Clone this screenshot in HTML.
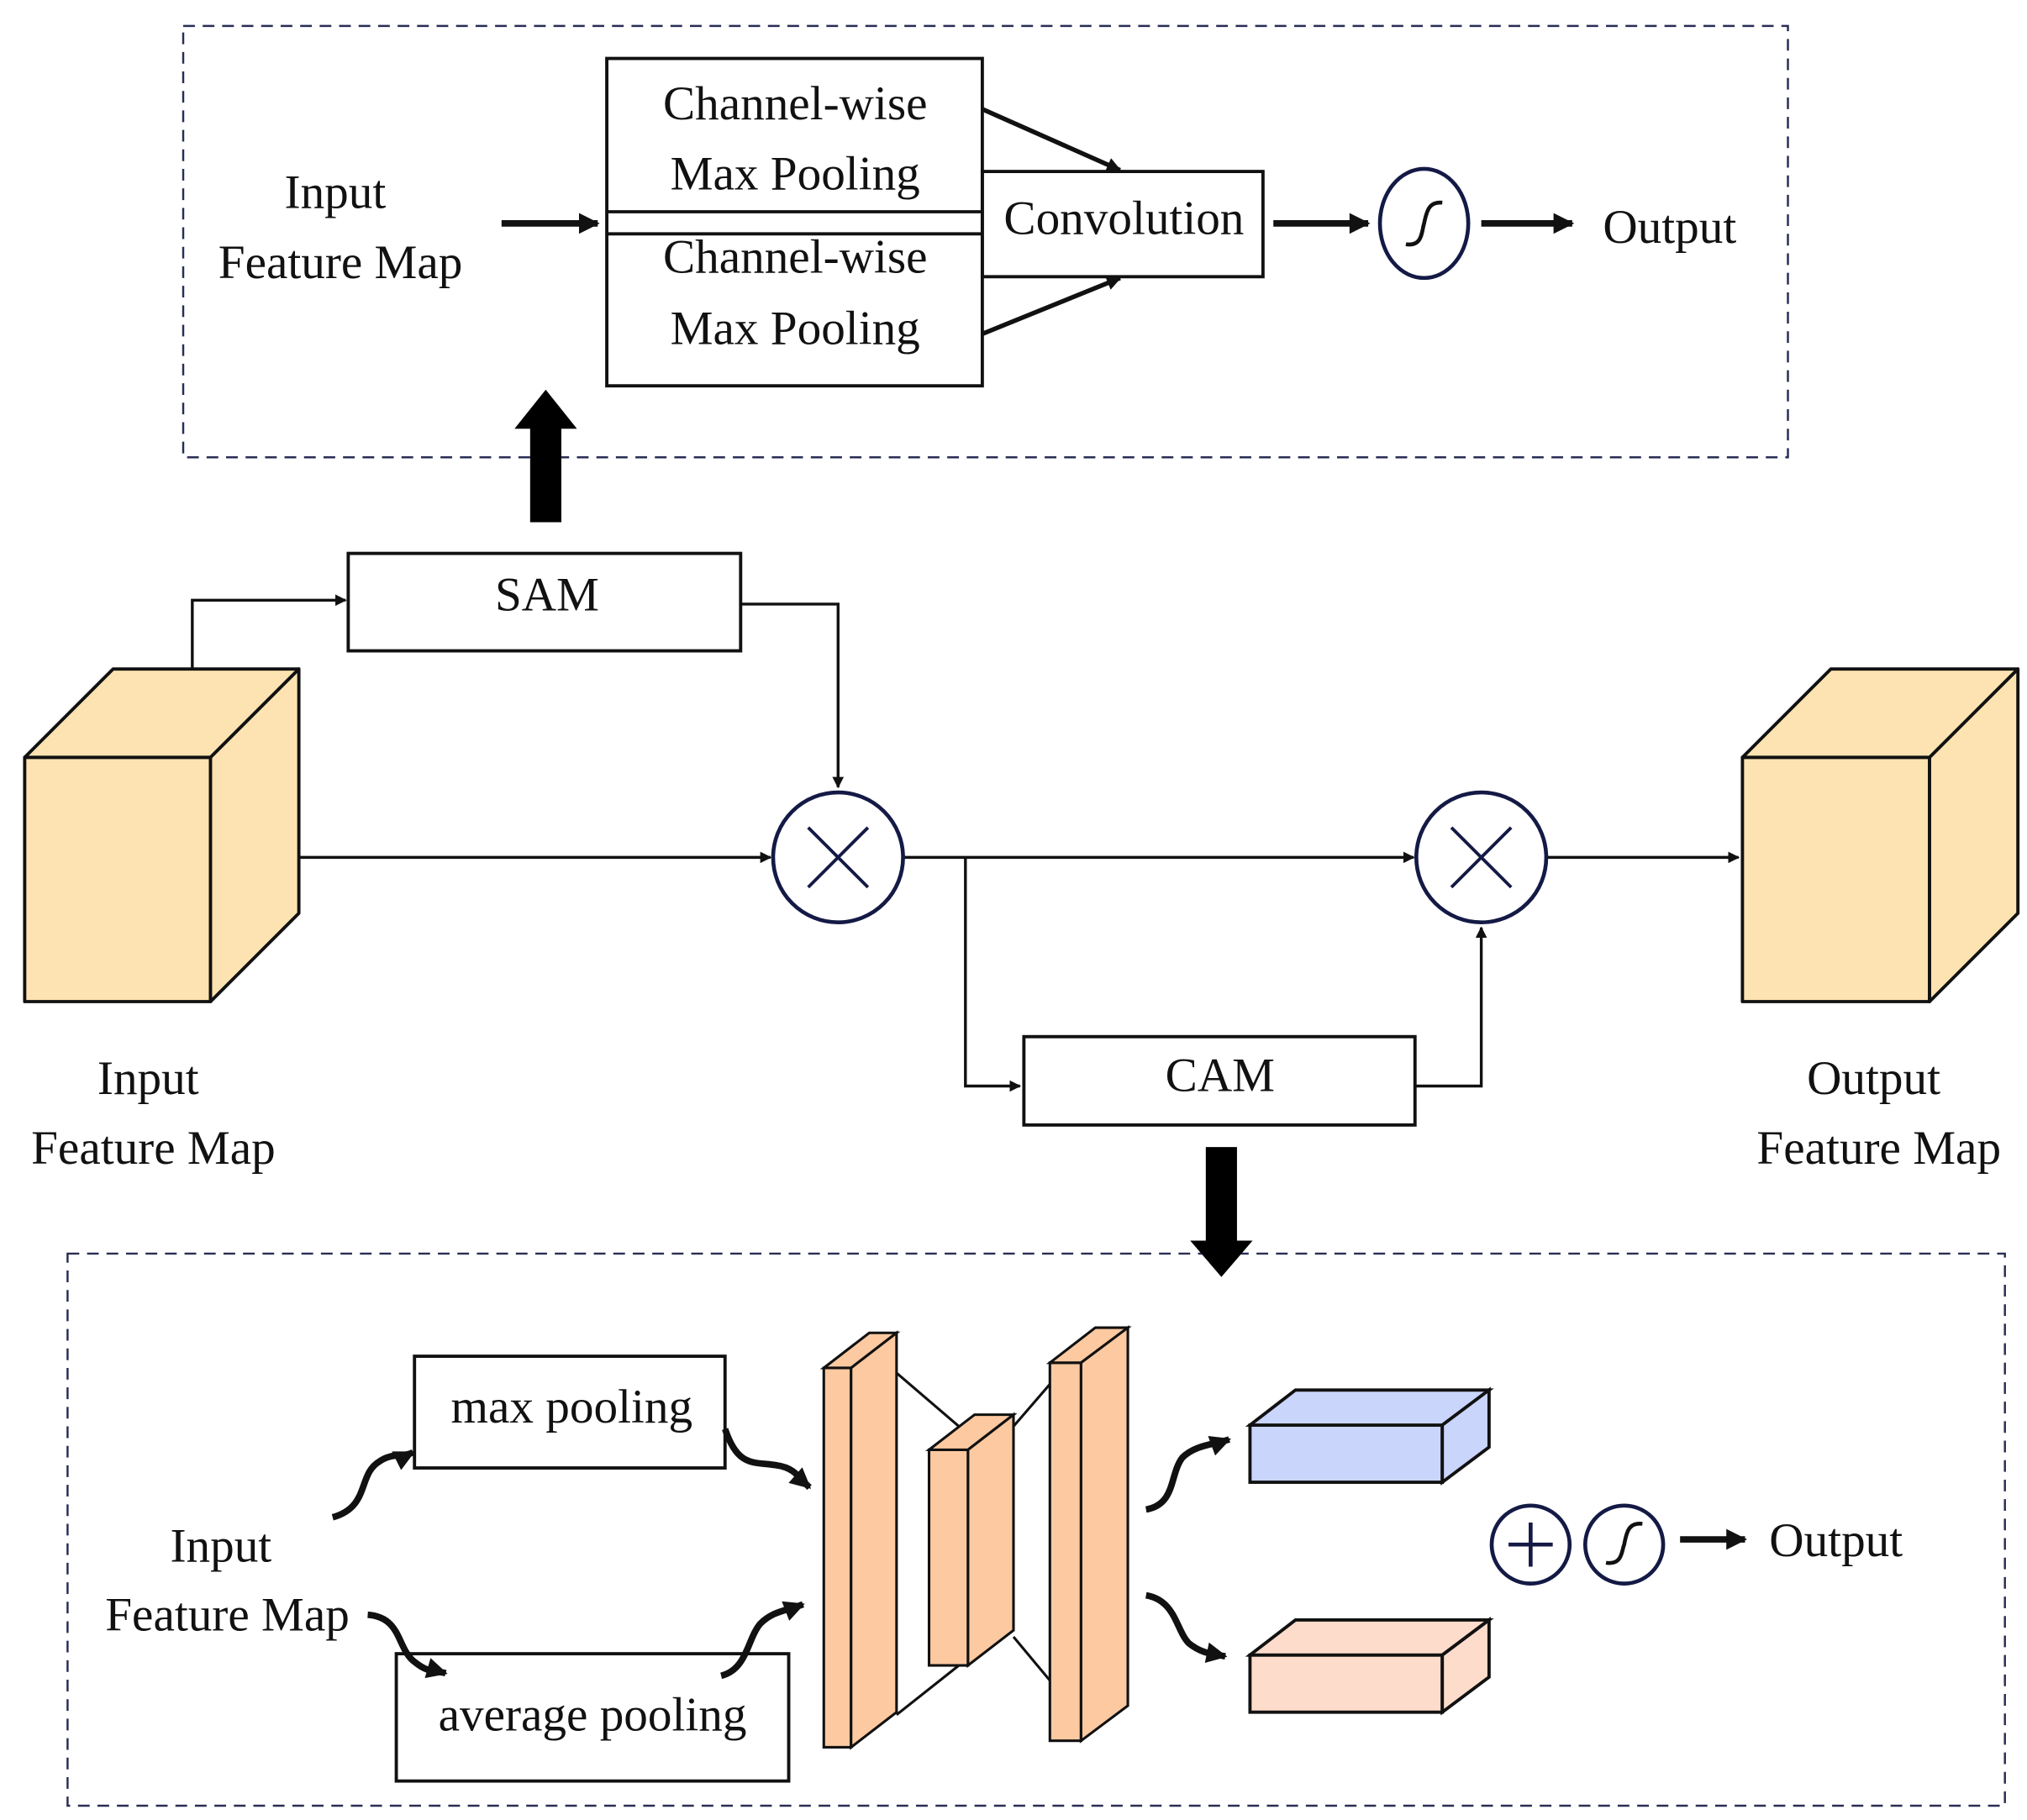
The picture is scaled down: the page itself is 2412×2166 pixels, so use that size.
<!DOCTYPE html>
<html><head><meta charset="utf-8"><style>html,body{margin:0;padding:0;background:#fff}svg{display:block}</style></head>
<body>
<svg width="2412" height="2166" viewBox="0 0 1560 1401" preserveAspectRatio="none" xmlns="http://www.w3.org/2000/svg" font-family="'Liberation Serif', serif" font-size="37" fill="#111">
<defs>
<marker id="a" viewBox="0 0 10 10" refX="9" refY="5" markerWidth="3.6" markerHeight="3.2" orient="auto"><path d="M0,0L10,5L0,10z" fill="#111"/></marker>
<marker id="b" viewBox="0 0 10 10" refX="9" refY="5" markerWidth="4" markerHeight="4" orient="auto"><path d="M0,0L10,5L0,10z" fill="#111"/></marker>
</defs>
<g fill="none" stroke="#2a2d55" stroke-width="1.6" stroke-dasharray="9,6">
<rect x="141" y="20" width="1235" height="332"/>
<rect x="52" y="965" width="1491" height="425"/>
</g>
<g text-anchor="middle">
<text x="258" y="160">Input</text><text x="262" y="214">Feature Map</text>
<text x="612" y="92">Channel-wise</text><text x="612" y="146">Max Pooling</text>
<text x="612" y="210">Channel-wise</text><text x="612" y="265">Max Pooling</text>
<text x="865" y="180">Convolution</text>
<text x="1285" y="187">Output</text>
<text x="421" y="470">SAM</text><text x="939" y="840">CAM</text>
<text x="114" y="842">Input</text><text x="118" y="896">Feature Map</text>
<text x="1442" y="842">Output</text><text x="1446" y="896">Feature Map</text>
<text x="440" y="1095">max pooling</text><text x="456" y="1332">average pooling</text>
<text x="170" y="1202">Input</text><text x="175" y="1255">Feature Map</text>
<text x="1413" y="1198">Output</text>
</g>
<g fill="none" stroke="#111" stroke-width="2.5">
<rect x="467" y="45" width="289" height="252"/>
<line x1="467" y1="163" x2="756" y2="163"/><line x1="467" y1="180" x2="756" y2="180"/>
<rect x="756" y="132" width="216" height="81"/>
<rect x="268" y="426" width="302" height="75"/>
<rect x="788" y="798" width="301" height="68"/>
<rect x="319" y="1044" width="239" height="86"/>
<rect x="305" y="1273" width="302" height="98"/>
</g>
<g stroke="#111" stroke-width="5" fill="none" marker-end="url(#a)">
<line x1="386" y1="172" x2="460" y2="172"/>
<line x1="980" y1="172" x2="1053" y2="172"/>
<line x1="1140" y1="172" x2="1210" y2="172"/>
<line x1="1293" y1="1185" x2="1343" y2="1185"/>
<line x1="756" y1="84" x2="862" y2="131" stroke-width="3.5"/>
<line x1="756" y1="257" x2="862" y2="214" stroke-width="3.5"/>
<path d="M256,1168 C285,1160 275,1135 292,1125 C302,1118 310,1122 318,1118"/>
<path d="M283,1243 C310,1245 305,1270 320,1280 C330,1288 336,1286 343,1288"/>
<path d="M558,1100 C568,1130 580,1125 598,1128 C612,1130 615,1138 623,1145"/>
<path d="M555,1290 C575,1285 575,1262 585,1250 C595,1240 605,1240 618,1235"/>
<path d="M882,1162 C905,1158 900,1135 910,1122 C920,1112 935,1112 946,1108"/>
<path d="M882,1228 C905,1232 905,1255 915,1265 C925,1273 933,1273 943,1275"/>
</g>
<g stroke="#111" stroke-width="2.2" fill="none" marker-end="url(#b)">
<polyline points="148,514 148,462 266,462"/>
<polyline points="570,465 645,465 645,606"/>
<line x1="225" y1="660" x2="593" y2="660"/>
<line x1="695" y1="660" x2="1088" y2="660"/>
<line x1="1190" y1="660" x2="1338" y2="660"/>
<polyline points="743,660 743,836 785,836"/>
<polyline points="1089,836 1140,836 1140,714"/>
</g>
<path d="M408,402 V330 H396 L420,300 L444,330 H432 V402 Z" fill="#000"/>
<path d="M928,883 V955 H916 L940,983 L964,955 H952 V883 Z" fill="#000"/>
<g fill="none" stroke="#141a45" stroke-width="3">
<ellipse cx="1096" cy="172" rx="34" ry="42"/>
<circle cx="645" cy="660" r="50"/><circle cx="1140" cy="660" r="50"/>
<circle cx="1178" cy="1189" r="30"/><circle cx="1250" cy="1189" r="30"/>
<path d="M622,637 L668,683 M668,637 L622,683 M1117,637 L1163,683 M1163,637 L1117,683" stroke-width="2.5"/>
<path d="M1178,1172 V1206 M1161,1189 H1195"/>
</g>
<g fill="none" stroke="#111" stroke-width="3">
<path d="M1082,188 C1095,190 1094,178 1096,172 C1098,162 1100,155 1110,156"/>
<path d="M1236,1203 C1249,1205 1248,1193 1250,1189 C1252,1178 1254,1172 1264,1173"/>
</g>
<g stroke="#111" stroke-width="2.5" fill="#fde3b1" stroke-linejoin="round">
<rect x="19" y="583" width="143" height="188"/>
<polygon points="19,583 87,515 230,515 162,583"/>
<polygon points="162,583 230,515 230,703 162,771"/>
<rect x="1341" y="583" width="144" height="188"/>
<polygon points="1341,583 1409,515 1553,515 1485,583"/>
<polygon points="1485,583 1553,515 1553,703 1485,771"/>
</g>
<g stroke="#111" stroke-width="2" fill="#fdc9a1">
<line x1="668" y1="1038" x2="738" y2="1098" fill="none"/>
<line x1="690" y1="1320" x2="738" y2="1282" fill="none"/>
<line x1="780" y1="1098" x2="830" y2="1040" fill="none"/>
<line x1="780" y1="1260" x2="830" y2="1320" fill="none"/>
<rect x="634" y="1053" width="21" height="292"/>
<polygon points="634,1053 669,1026 690,1026 655,1053"/>
<polygon points="655,1053 690,1026 690,1318 655,1345"/>
<rect x="715" y="1116" width="30" height="166"/>
<polygon points="715,1116 750,1089 780,1089 745,1116"/>
<polygon points="745,1116 780,1089 780,1255 745,1282"/>
<rect x="808" y="1049" width="24" height="291"/>
<polygon points="808,1049 843,1022 868,1022 832,1049"/>
<polygon points="832,1049 868,1022 868,1313 832,1340"/>
</g>
<g stroke="#111" stroke-width="2.5">
<g fill="#c9d5fb"><rect x="962" y="1097" width="148" height="44"/><polygon points="962,1097 997,1070 1146,1070 1110,1097"/><polygon points="1110,1097 1146,1070 1146,1114 1110,1141"/></g>
<g fill="#fddccb"><rect x="962" y="1274" width="148" height="44"/><polygon points="962,1274 997,1247 1146,1247 1110,1274"/><polygon points="1110,1274 1146,1247 1146,1291 1110,1318"/></g>
</g>
</svg>
</body></html>
